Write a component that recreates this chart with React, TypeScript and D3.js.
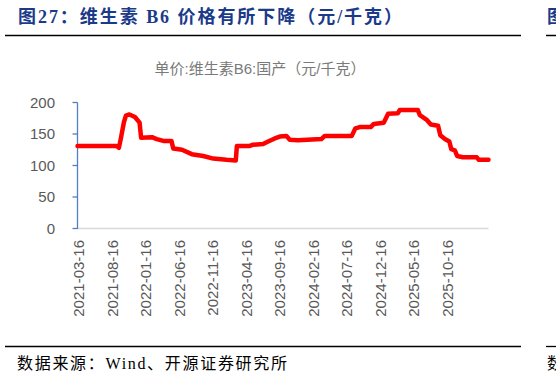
import React from "react";
import * as d3 from "d3";

const dates: string[] = [
  "2021-03-16","2021-09-10","2021-09-20","2021-09-29","2021-10-13","2021-10-22","2021-11-07","2021-12-02","2021-12-23","2021-12-30",
  "2022-02-17","2022-03-11","2022-04-10","2022-05-17","2022-05-25","2022-07-04","2022-08-17","2022-10-08","2022-11-23","2023-01-22",
  "2023-03-05","2023-03-10","2023-05-08","2023-05-23","2023-07-07","2023-07-30","2023-08-29","2023-09-21","2023-10-21","2023-11-05",
  "2023-12-13","2024-03-28","2024-04-12","2024-08-13","2024-08-29","2024-09-18","2024-11-07","2024-11-21","2025-01-05","2025-01-25",
  "2025-03-10","2025-03-19","2025-06-09","2025-06-18","2025-07-18","2025-08-07","2025-09-09","2025-09-19","2025-10-10","2025-10-30",
  "2025-11-08","2025-11-24","2025-12-05","2025-12-30","2026-03-04","2026-03-13","2026-04-26",
];
const prices: number[] = [
  131,131,128,143,169,179,181,177,168,144,
  145,142,139,139,127,125,118,115,111,109,
  108,131,131,133,134,138,143,146,147,141,
  140,142,147,147,159,161,161,166,168,182,
  183,188,188,180,173,165,163,148,142,138,
  126,124,115,113,113,109,109,
];
const xTickLabels: string[] = [
  "2021-03-16","2021-08-16","2022-01-16","2022-06-16","2022-11-16","2023-04-16",
  "2023-09-16","2024-02-16","2024-07-16","2024-12-16","2025-05-16","2025-10-16",
];
const yTicks: number[] = [0, 50, 100, 150, 200];
const domainStart = "2021-03-16";
const domainEnd = "2026-04-26";

const parse = d3.timeParse("%Y-%m-%d");

export default function App() {
  const W = 556, H = 377;
  const left = 77.5, right = 488.5, top = 102.5, bottom = 228.5;
  const x = d3.scaleTime().domain([parse(domainStart)!, parse(domainEnd)!]).range([left, right]);
  const y = d3.scaleLinear().domain([0, 200]).range([bottom, top]);
  const pts = dates.map((d, i) => [x(parse(d)!), y(prices[i])] as [number, number]);
  const line = d3.line().curve(d3.curveLinear)(pts) || "";
  const labelFont = "'Liberation Sans', Arial, sans-serif";
  const grey = "#595959";
  return (
    <svg width={W} height={H} style={{ position: "absolute", left: 0, top: 0, background: "#fff" }}>
      <rect x={0} y={0} width={W} height={H} fill="#fff" />
      {/* header */}
      <text x={18} y={23} fontFamily="'Liberation Serif', 'Noto Sans CJK SC', serif" fontWeight={700} fontSize={18}
        fill="#1b3a8a" textLength={384} lengthAdjust="spacing">图27：维生素 B6 价格有所下降（元/千克）</text>
      <line x1={5} x2={521} y1={35.5} y2={35.5} stroke="#000" strokeWidth={1.5} />
      <line x1={546} x2={556} y1={35.5} y2={35.5} stroke="#000" strokeWidth={1.5} />
      <text x={547} y={23} fontFamily="'Noto Sans CJK SC', serif" fontWeight={700} fontSize={18} fill="#1b3a8a">图</text>
      {/* subtitle */}
      <text x={260} y={73.5} textAnchor="middle" fontFamily="'Liberation Sans', 'Noto Sans CJK SC', sans-serif"
        fontSize={15} fill="#7a7a7a">单价:维生素B6:国产（元/千克）</text>
      {/* x axis */}
      <line x1={left} x2={right} y1={bottom} y2={bottom} stroke="#d9d9d9" strokeWidth={1.3} />
      {/* y axis */}
      <line x1={left} x2={left} y1={top} y2={bottom + 0.5} stroke="#4f7fc4" strokeWidth={1.3} />
      {yTicks.map((t) => (
        <g key={t}>
          <line x1={left - 5} x2={left} y1={y(t)} y2={y(t)} stroke="#4f7fc4" strokeWidth={1.3} />
          <text x={55} y={y(t) + 5.3} textAnchor="end" fontFamily={labelFont} fontSize={15} fill={grey}>{t}</text>
        </g>
      ))}
      {xTickLabels.map((l) => {
        const px = x(parse(l)!) + 1;
        return (
          <text key={l} transform={`translate(${px + 5.5},240) rotate(-90)`} textAnchor="end"
            fontFamily={labelFont} fontSize={15} fill={grey}>{l}</text>
        );
      })}
      {/* series */}
      <path d={line} fill="none" stroke="#ff0000" strokeWidth={4.5} strokeLinejoin="round" strokeLinecap="round" />
      {/* footer */}
      <line x1={5} x2={521} y1={346.5} y2={346.5} stroke="#000" strokeWidth={1.3} />
      <line x1={546} x2={556} y1={346.5} y2={346.5} stroke="#000" strokeWidth={1.3} />
      <text x={17} y={369} fontFamily="'Liberation Serif', 'Noto Sans CJK SC', serif" fontSize={16} fill="#000"
        textLength={270} lengthAdjust="spacing">数据来源：Wind、开源证券研究所</text>
      <text x={547} y={369} fontFamily="'Noto Sans CJK SC', serif" fontSize={16} fill="#000">数</text>
    </svg>
  );
}
